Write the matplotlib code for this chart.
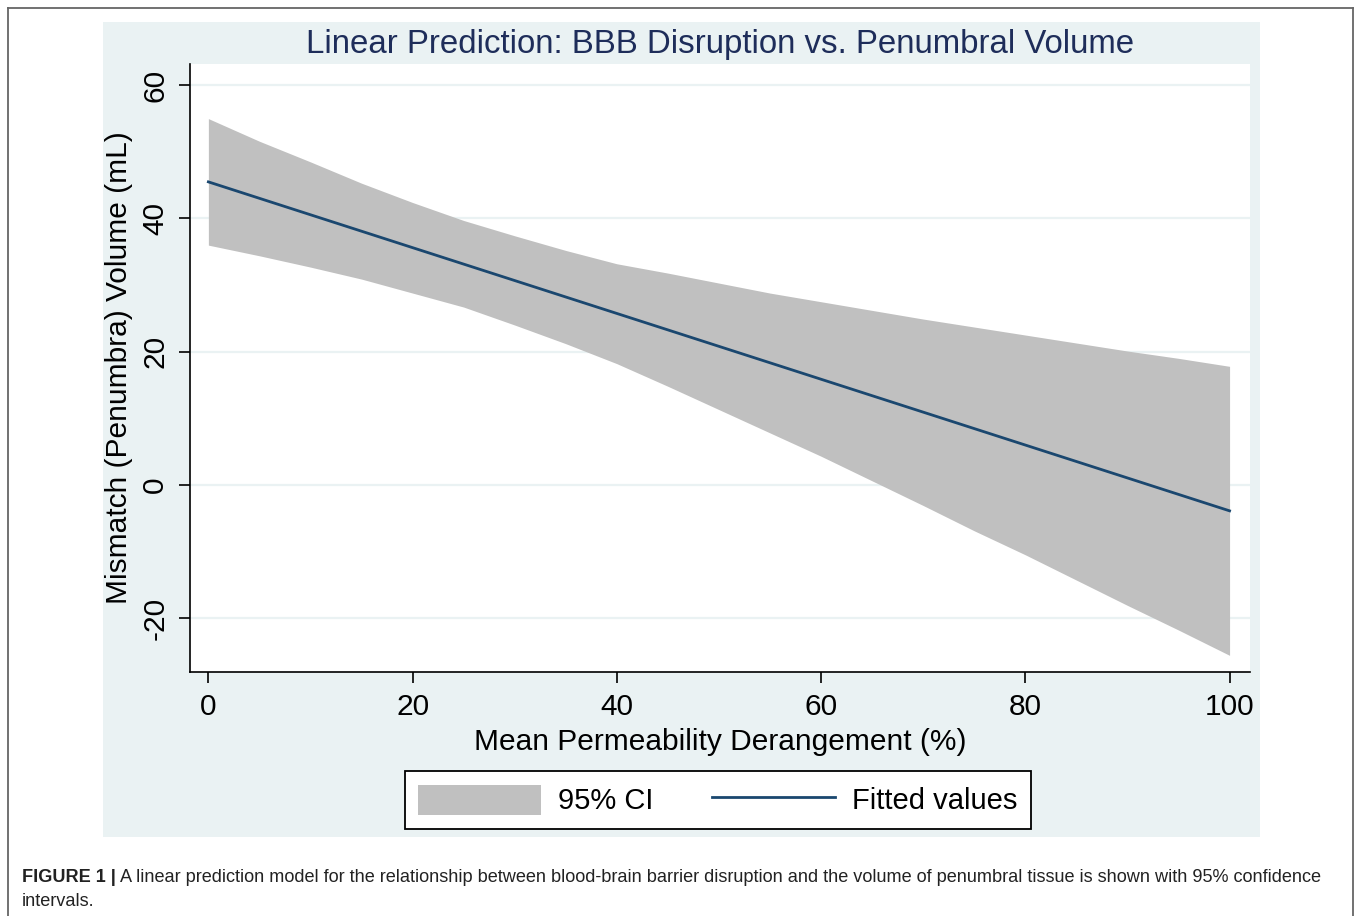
import matplotlib.pyplot as plt
from matplotlib.patches import Rectangle, Patch
from matplotlib.lines import Line2D

plt.rcParams["font.family"] = ["Liberation Sans", "DejaVu Sans"]
plt.rcParams["axes.unicode_minus"] = False

# values
perm = [0, 5, 10, 15, 20, 25, 30, 35, 40, 45, 50,
        55, 60, 65, 70, 75, 80, 85, 90, 95, 100]
ci_upper = [55.0, 51.6, 48.5, 45.3, 42.4, 39.7, 37.4, 35.2, 33.2, 31.8, 30.3,
            28.8, 27.5, 26.2, 24.9, 23.7, 22.5, 21.3, 20.1, 19.0, 17.8]
ci_lower = [36.0, 34.4, 32.7, 30.9, 28.8, 26.7, 24.0, 21.2, 18.2, 14.8, 11.3,
            7.8, 4.3, 0.6, -3.1, -6.9, -10.5, -14.3, -18.1, -21.8, -25.6]
fit_x = [0, 100]
fit_y = [45.5, -3.9]

xticks = [0, 20, 40, 60, 80, 100]
yticks = [-20, 0, 20, 40, 60]

panel_bg = "#eaf2f3"
navy = "#1a476f"
W, H = 1358, 916

fig = plt.figure(figsize=(W / 100, H / 100), dpi=100)

# stata graph region
fig.patches.append(Rectangle((103 / W, 1 - 837 / H), 1157 / W, 815 / H,
                             transform=fig.transFigure, facecolor=panel_bg,
                             edgecolor="none", zorder=-5))

# outer frame of the figure page
for xs, ys in [([8, 8], [916, 8]), ([8, 1353], [8, 8]), ([1353, 1353], [8, 916])]:
    fig.add_artist(Line2D([x / W for x in xs], [1 - y / H for y in ys],
                          transform=fig.transFigure, color="#666666", lw=1.3))

ax = fig.add_axes([190 / W, 1 - 672 / H, 1060 / W, 608 / H])
ax.set_zorder(1)
ax.fill_between(perm, ci_lower, ci_upper, color="#c0c0c0", lw=0, label="95% CI")
ax.plot(fit_x, fit_y, color=navy, lw=2, label="Fitted values")
ax.set_xlim(-1.8, 102)
ax.set_ylim(-28.1, 63.2)
ax.set_xticks(xticks)
ax.set_yticks(yticks)
ax.grid(axis="y", color=panel_bg, lw=1.6)
ax.set_axisbelow(True)
for s in ["top", "right"]:
    ax.spines[s].set_visible(False)
for s in ["left", "bottom"]:
    ax.spines[s].set_linewidth(1.2)
ax.tick_params(labelsize=21.5, length=8, width=1.2, pad=7)
plt.setp(ax.get_yticklabels(), rotation=90, va="center")

ax.set_xlabel("Mean Permeability Derangement (%)", fontsize=21.5, labelpad=5)
ax.set_ylabel("Mismatch (Penumbra) Volume (mL)", fontsize=21.5, labelpad=6)

fig.text(720 / W, 1 - 44 / H, "Linear Prediction: BBB Disruption vs. Penumbral Volume",
         ha="center", va="center", fontsize=23.8, color="#1e2d5a")

handles = [Patch(facecolor="#c0c0c0", edgecolor="none"),
           Line2D([], [], color=navy, lw=2)]
leg = fig.legend(handles, ["95% CI", "Fitted values"], ncol=2,
                 loc="center", bbox_to_anchor=(718 / W, 1 - 800 / H),
                 fontsize=21, frameon=True, fancybox=False, shadow=False,
                 framealpha=1, handlelength=4.2, handleheight=1.2,
                 handletextpad=0.6, columnspacing=2.0, borderpad=0.45)
leg.get_frame().set_edgecolor("black")
leg.get_frame().set_linewidth(1.3)

bold = fig.text(22 / W, 1 - 877 / H, "FIGURE 1 |", fontsize=13.1,
                fontweight="bold", ha="left", va="center", color="#222222")
ax.annotate(" A linear prediction model for the relationship between blood-brain barrier "
            "disruption and the volume of penumbral tissue is shown with 95% confidence",
            xy=(1, 0.5), xycoords=bold, ha="left", va="center", fontsize=13.1,
            color="#222222", annotation_clip=False)
fig.text(22 / W, 1 - 901 / H, "intervals.", fontsize=13.1, ha="left", va="center",
         color="#222222")

fig.savefig("out.png", dpi=100)
